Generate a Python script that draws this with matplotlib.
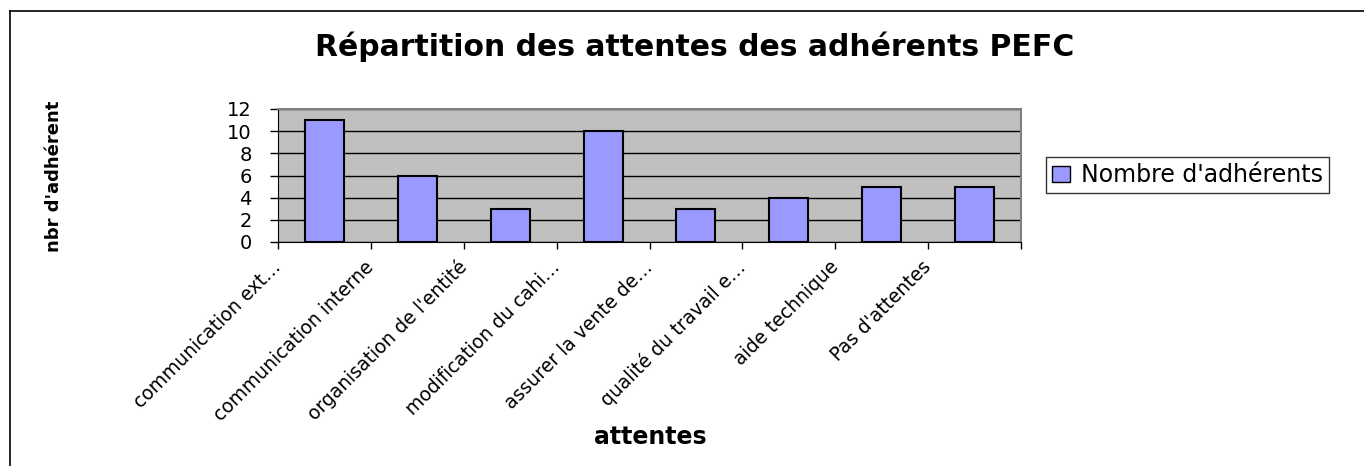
import matplotlib
matplotlib.use('Agg')
import matplotlib.pyplot as plt
from matplotlib.lines import Line2D
from matplotlib.patches import Patch
import numpy as np

categories = ['communication ext…', 'communication interne', "organisation de l'entité",
              'modification du cahi…', 'assurer la vente de…', 'qualité du travail e…',
              'aide technique', "Pas d'attentes"]
nb_adherents = [11, 6, 3, 10, 3, 4, 5, 5]
yticks = [0, 2, 4, 6, 8, 10, 12]

W, H = 1364, 466
fig = plt.figure(figsize=(W / 100, H / 100), dpi=100)
fig.patch.set_facecolor('white')

# zone de tracé (coordonnées pixel -> figure)
left, right, top, bottom = 278, 1021, 109, 242
ax = fig.add_axes([left / W, 1 - bottom / H, (right - left) / W, (bottom - top) / H])
ax.set_facecolor('#C0C0C0')

x = np.arange(len(categories))
ax.bar(x, nb_adherents, width=0.42, color='#9999FF', edgecolor='black', linewidth=1.5, zorder=3)

ax.set_xlim(-0.5, len(categories) - 0.5)
ax.set_ylim(0, 12)
ax.set_yticks(yticks)
ax.set_yticklabels([str(v) for v in yticks], fontsize=14)
ax.yaxis.grid(True, color='black', linewidth=1, zorder=1)
ax.set_axisbelow(True)

# étiquettes calées sur les graduations de gauche, comme Excel
ax.set_xticks(np.arange(len(categories) + 1) - 0.5)
ax.set_xticklabels(categories + [''], rotation=45, ha='right', va='center',
                   rotation_mode='anchor', fontsize=13.5)
ax.tick_params(axis='x', length=5, width=1, color='black', pad=11)
ax.tick_params(axis='y', length=6, width=1, color='black', pad=13)

for s in ['top', 'right']:
    ax.spines[s].set_color('#808080')
    ax.spines[s].set_linewidth(1.5)
ax.spines['left'].set_color('black')
ax.spines['bottom'].set_color('black')

fig.text(695 / W, 1 - 47 / H, 'Répartition des attentes des adhérents PEFC',
         ha='center', va='center', fontsize=21.5, fontweight='bold')
fig.text(650 / W, 1 - 437 / H, 'attentes', ha='center', va='center', fontsize=17, fontweight='bold')
fig.text(54 / W, 1 - 176 / H, "nbr d'adhérent", ha='center', va='center', rotation=90,
         fontsize=13, fontweight='bold')

handle = Patch(facecolor='#9999FF', edgecolor='black', linewidth=1)
leg = fig.legend([handle], ["Nombre d'adhérents"], loc='center left',
                 bbox_to_anchor=(1046 / W, 1 - 175 / H), fontsize=17,
                 frameon=True, fancybox=False, borderaxespad=0, handlelength=0.75,
                 handleheight=0.65, handletextpad=0.5, borderpad=0.25)
leg.get_frame().set_edgecolor('black')
leg.get_frame().set_linewidth(1)

# cadre du graphique
fig.add_artist(Line2D([10 / W, 1], [1 - 11 / H, 1 - 11 / H], color='black', linewidth=1.2))
fig.add_artist(Line2D([10 / W, 10 / W], [0, 1 - 11 / H], color='black', linewidth=1.2))

fig.savefig('out.png', dpi=100)
